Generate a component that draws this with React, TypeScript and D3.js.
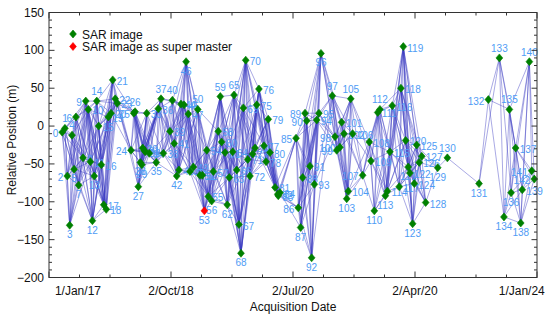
import React, { useEffect, useRef } from 'react';
import * as d3 from 'd3';

// acquisition time (days from start of axis) and relative position (m), index = image number
const acqDays = [
  78, 94, 108, 122, 136, 148, 159, 175, 201, 217, 232, 244, 256, 267, 282, 293, 309, 323, 338, 350,
  366, 376, 391, 403, 484, 500, 508, 527, 539, 548, 553, 562, 568, 577, 592, 633, 645, 661, 675, 714,
  728, 739, 754, 767, 779, 797, 809, 822, 832, 852, 878, 891, 905, 917, 931, 940, 960, 970, 999, 1011,
  1019, 1039, 1052, 1064, 1084, 1092, 1108, 1121, 1133, 1147, 1161, 1173, 1186, 1202, 1216, 1226, 1239, 1269, 1281, 1294,
  1304, 1334, 1350, 1353, 1363, 1458, 1471, 1485, 1497, 1511, 1521, 1540, 1550, 1566, 1580, 1593, 1605, 1672, 1688, 1698,
  1717, 1727, 1741, 1757, 1766, 1781, 1792, 1851, 1890, 1900, 1920, 1940, 1953, 1985, 1997, 2012, 2026, 2067, 2077, 2091,
  2105, 2120, 2130, 2146, 2156, 2170, 2185, 2200, 2223, 2294, 2351, 2538, 2593, 2658, 2685, 2717, 2727, 2754, 2784, 2793,
  2835, 2849, 2864
];

const relPos = [
  -8, -3, -66, -131, -12, -57, 12, -78, -42, 33, 22, -47, -125, -66, 33, 0, -51, -104, -110, 12,
  17, 61, 36, 30, -32, 17, 19, -80, -48, -51, -29, -32, -34, 17, -36, -48, 23, 36, -36, -7,
  34, -23, -66, -58, 29, 28, 85, 16, -60, -54, 22, -65, -65, -112, -32, -93, -99, -60, -7, 39,
  -21, -35, -104, -68, -34, 41, -58, -130, -168, 24, 87, -44, -66, -37, -29, 28, 49, -26, -47, 9,
  -35, -81, -90, -92, -88, -16, -108, -134, -68, 17, 7, -53, -174, -77, 8, 17, 96, 40, -14, -32,
  -28, 5, -10, -96, -86, 36, -10, -65, -21, -46, -112, 18, 22, -92, -86, -34, 27, -80, 50, 105,
  -19, -54, -62, -129, -76, -25, -48, -40, -101, -55, -42, -76, 35, 90, -120, 22, -88, -29, -128, -84,
  85, -59, -70
];

const superMaster = 53;
const maxTempBaseline = 125; // days

const xTickValues = [171, 720, 1440, 2160, 2790];
const xTickLabels = ['1/Jan/17', '2/Oct/18', '2/Jul/20', '2/Apr/20', '1/Jan/24'];

const legendItems = ['SAR image', 'SAR image as super master'];

// label placement: l = left, a = above, b = below, default right
const labelLeft = [0, 2, 6, 9, 24, 25, 85, 86, 89, 90, 98, 99, 100, 107, 132, 141, 142];
const labelAbove = [1, 4, 14, 26, 37, 40, 50, 59, 65, 97, 105, 112, 130, 133, 135, 140];
const labelBelow = [3, 5, 7, 12, 13, 27, 28, 29, 35, 42, 46, 53, 56, 62, 68, 87, 92, 96, 103, 110, 113, 121, 123, 129, 131, 134, 136, 138];

const FONT = 'Arial, "Liberation Sans", Helvetica, sans-serif';

const App = () => {
  const ref = useRef<SVGSVGElement>(null);

  useEffect(() => {
    document.body.style.margin = '0';
    const width = 550, height = 321;
    const left = 49, right = 537, top = 12.5, bottom = 277.5;

    const svg = d3.select(ref.current);
    svg.selectAll('*').remove();
    svg.attr('width', width).attr('height', height);

    const x = d3.scaleLinear().domain([0, 2880]).range([left, right]);
    const y = d3.scaleLinear().domain([-200, 150]).range([bottom, top]);

    const pts = acqDays.map((t, i) => ({ i, t, v: relPos[i] }));

    // interferometric pairs: temporal baseline threshold, keep the chain connected
    const pairs: [number, number][] = [];
    for (let i = 0; i < pts.length; i++) {
      for (let j = i + 1; j < pts.length; j++) {
        const dt = pts[j].t - pts[i].t;
        if (dt <= maxTempBaseline || j === i + 1) pairs.push([i, j]);
        else break;
      }
    }

    svg.append('g')
      .selectAll('line')
      .data(pairs)
      .enter().append('line')
      .attr('x1', d => x(pts[d[0]].t))
      .attr('y1', d => y(pts[d[0]].v))
      .attr('x2', d => x(pts[d[1]].t))
      .attr('y2', d => y(pts[d[1]].v))
      .attr('stroke', '#3a3ac0')
      .attr('stroke-opacity', 0.55)
      .attr('stroke-width', 0.8);

    const diamond = 'M0,-4L3.4,0L0,4L-3.4,0Z';

    // labels
    const side = (i: number) =>
      labelLeft.includes(i) ? 'l' : labelAbove.includes(i) ? 'a' : labelBelow.includes(i) ? 'b' : 'r';

    svg.append('g')
      .selectAll('text')
      .data(pts)
      .enter().append('text')
      .attr('x', d => {
        const s = side(d.i);
        return x(d.t) + (s === 'r' ? 4 : s === 'l' ? -4 : 0);
      })
      .attr('y', d => {
        const s = side(d.i);
        return y(d.v) + (s === 'a' ? -6 : s === 'b' ? 13 : 5);
      })
      .attr('text-anchor', d => {
        const s = side(d.i);
        return s === 'r' ? 'start' : s === 'l' ? 'end' : 'middle';
      })
      .attr('font-family', FONT)
      .attr('font-size', 10)
      .attr('fill', '#4f9cf5')
      .text(d => d.i);

    svg.append('g')
      .selectAll('path')
      .data(pts)
      .enter().append('path')
      .attr('d', diamond)
      .attr('transform', d => `translate(${x(d.t)},${y(d.v)})`)
      .attr('fill', d => (d.i === superMaster ? '#ff0000' : '#008000'))
      .attr('stroke', d => (d.i === superMaster ? '#ff0000' : '#008000'))
      .attr('stroke-width', 0.6);

    // frame and ticks
    const axisColor = '#333';
    const g = svg.append('g');
    g.append('rect')
      .attr('x', left).attr('y', top)
      .attr('width', right - left).attr('height', bottom - top)
      .attr('fill', 'none').attr('stroke', axisColor).attr('stroke-width', 1);

    const yTicks = d3.range(-200, 151, 10);
    yTicks.forEach(v => {
      const major = v % 50 === 0;
      const len = major ? 5.5 : 3;
      g.append('line').attr('x1', left).attr('x2', left + len).attr('y1', y(v)).attr('y2', y(v))
        .attr('stroke', axisColor);
      g.append('line').attr('x1', right).attr('x2', right - len).attr('y1', y(v)).attr('y2', y(v))
        .attr('stroke', axisColor);
      if (major) {
        g.append('text')
          .attr('x', left - 5).attr('y', y(v) + 4)
          .attr('text-anchor', 'end')
          .attr('font-family', FONT).attr('font-size', 12)
          .attr('fill', '#111')
          .text(v < 0 ? '\u2212' + Math.abs(v) : String(v));
      }
    });

    const xTicks = d3.range(0, 2881, 180);
    xTicks.forEach((t, k) => {
      const major = k % 4 === 0;
      const len = major ? 6 : 3;
      g.append('line').attr('x1', x(t)).attr('x2', x(t)).attr('y1', bottom).attr('y2', bottom - len)
        .attr('stroke', axisColor);
      g.append('line').attr('x1', x(t)).attr('x2', x(t)).attr('y1', top).attr('y2', top + len)
        .attr('stroke', axisColor);
    });

    xTickValues.forEach((t, k) => {
      g.append('text')
        .attr('x', x(t)).attr('y', 295)
        .attr('text-anchor', 'middle')
        .attr('font-family', FONT).attr('font-size', 12)
        .attr('fill', '#111')
        .text(xTickLabels[k]);
    });

    g.append('text')
      .attr('x', (left + right) / 2).attr('y', 311)
      .attr('text-anchor', 'middle')
      .attr('font-family', FONT).attr('font-size', 12)
      .attr('fill', '#111')
      .text('Acquisition Date');

    g.append('text')
      .attr('transform', `translate(16,${(top + bottom) / 2 - 5}) rotate(-90)`)
      .attr('text-anchor', 'middle')
      .attr('font-family', FONT).attr('font-size', 12)
      .attr('fill', '#111')
      .text('Relative Position (m)');

    // legend
    const lg = svg.append('g');
    legendItems.forEach((label, k) => {
      const ly = 34 + k * 12.5;
      lg.append('path')
        .attr('d', diamond)
        .attr('transform', `translate(73,${ly})`)
        .attr('fill', k === 0 ? '#008000' : '#ff0000')
        .attr('stroke', k === 0 ? '#008000' : '#ff0000')
        .attr('stroke-width', 0.6);
      lg.append('text')
        .attr('x', 82).attr('y', ly + 4.5)
        .attr('font-family', FONT).attr('font-size', 12)
        .attr('fill', '#111')
        .text(label);
    });
  });

  return (
    <div id="chartArea">
      <svg ref={ref}></svg>
    </div>
  );
};

export default App;
